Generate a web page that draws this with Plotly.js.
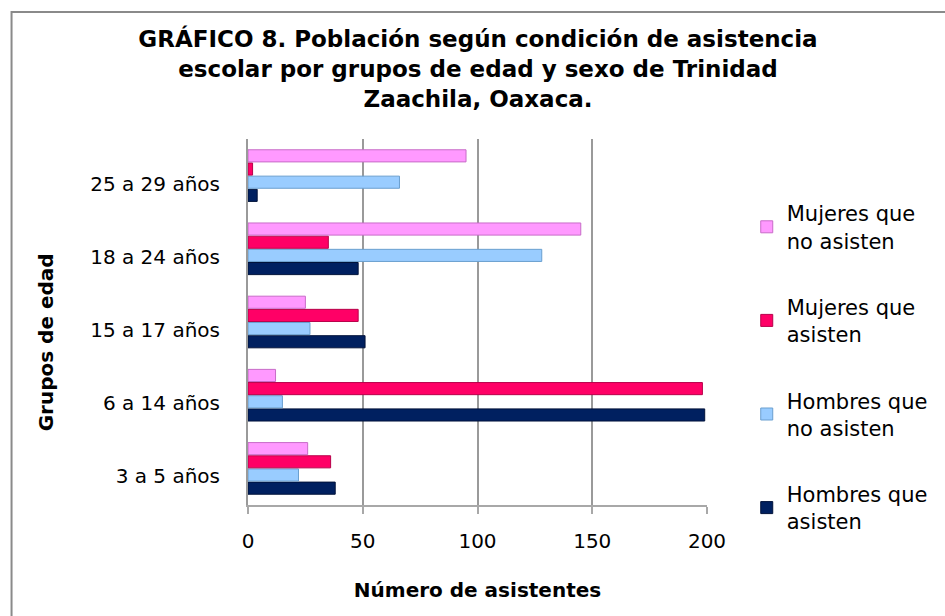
<!DOCTYPE html>
<html>
<head>
<meta charset="utf-8">
<script src="https://cdn.plot.ly/plotly-3.0.1.min.js"></script>
<style>
  html, body { margin: 0; padding: 0; background: #fff; }
  #chart { width: 945px; height: 616px; }
</style>
</head>
<body>
<div id="chart"></div>
<script>
// ---- data ----
const ageGroups = ['3 a 5 años', '6 a 14 años', '15 a 17 años', '18 a 24 años', '25 a 29 años'];
const hombresAsisten   = [38, 199, 51, 48, 4];
const hombresNoAsisten = [22, 15, 27, 128, 66];
const mujeresAsisten   = [36, 198, 48, 35, 2];
const mujeresNoAsisten = [26, 12, 25, 145, 95];
const seriesNames = ['Hombres que<br>asisten', 'Hombres que<br>no asisten', 'Mujeres que<br>asisten', 'Mujeres que<br>no asisten'];
const xTicks = [0, 50, 100, 150, 200];

// ---- styles ----
const W = 945, H = 616;
const M = { l: 248, r: 235, t: 139, b: 111 };
const pw = W - M.l - M.r, ph = H - M.t - M.b;
const px2x = p => (p - M.l) / pw;
const py2y = p => (H - M.b - p) / ph;

const colors = ['#002060', '#99CCFF', '#FF0066', '#FF99FF'];
const edges  = ['#00123a', '#6a9fcf', '#b8004a', '#c86cc8'];
const ranks  = [4, 3, 2, 1];
const seriesValues = [hombresAsisten, hombresNoAsisten, mujeresAsisten, mujeresNoAsisten];

const font = '"DejaVu Sans", Arial, sans-serif';

const traces = seriesValues.map((vals, i) => ({
  type: 'bar',
  orientation: 'h',
  name: seriesNames[i],
  legendgroup: 'g' + i,
  legendrank: ranks[i],
  x: vals,
  y: ageGroups,
  marker: { color: colors[i], line: { color: edges[i], width: 1 } },
  hoverinfo: 'x+y+name'
}));

const layout = {
  width: W, height: H,
  margin: M,
  paper_bgcolor: '#ffffff',
  plot_bgcolor: '#ffffff',
  font: { family: font, color: '#000', size: 20 },
  title: {
    text: '<b>GRÁFICO 8. Población según condición de asistencia<br>escolar por grupos de edad y sexo de Trinidad<br>Zaachila, Oaxaca.</b>',
    font: { family: font, size: 23, color: '#000' },
    x: 478 / W, xanchor: 'center',
    y: 1 - 47 / H, yanchor: 'top'
  },
  barmode: 'group',
  bargap: 0.28,
  bargroupgap: 0.08,
  xaxis: {
    range: [0, 200],
    tickvals: xTicks,
    ticktext: xTicks.map(String),
    showgrid: true,
    gridcolor: '#9a9a9a',
    gridwidth: 2,
    zeroline: false,
    showline: true,
    linecolor: '#a8a8a8',
    linewidth: 1.5,
    ticks: 'outside',
    ticklen: 7,
    tickcolor: '#a8a8a8',
    tickwidth: 1.5,
    ticklabelstandoff: 10,
    tickfont: { family: font, size: 20, color: '#000' },
    title: { text: '<b>Número de asistentes</b>', font: { family: font, size: 20, color: '#000' }, standoff: 31 },
    automargin: false,
    fixedrange: true
  },
  yaxis: {
    type: 'category',
    categoryorder: 'array',
    categoryarray: ageGroups,
    showgrid: false,
    zeroline: false,
    showline: true,
    linecolor: '#9a9a9a',
    linewidth: 2,
    ticks: '',
    ticklabelstandoff: 22,
    ticklabelshift: 8,
    tickfont: { family: font, size: 20, color: '#000' },
    automargin: false,
    fixedrange: true
  },
  annotations: [{
    text: '<b>Grupos de edad</b>',
    textangle: -90,
    xref: 'paper', yref: 'paper',
    x: px2x(45), y: py2y(342),
    xanchor: 'center', yanchor: 'middle',
    showarrow: false,
    font: { family: font, size: 20, color: '#000' }
  }],
  legend: {
    x: px2x(750), xanchor: 'left',
    y: py2y(193), yanchor: 'top',
    traceorder: 'grouped',
    tracegroupgap: 36,
    font: { family: font, size: 21, color: '#000' },
    bgcolor: 'rgba(0,0,0,0)',
    itemclick: false, itemdoubleclick: false
  },
  shapes: [{
    type: 'rect', xref: 'paper', yref: 'paper',
    x0: px2x(10), x1: px2x(960), y0: py2y(630), y1: py2y(12),
    line: { color: '#8a8a8a', width: 2 }, fillcolor: 'rgba(0,0,0,0)', layer: 'below'
  }],
  showlegend: true
};

Plotly.newPlot('chart', traces, layout, { displayModeBar: false });
</script>
</body>
</html>
